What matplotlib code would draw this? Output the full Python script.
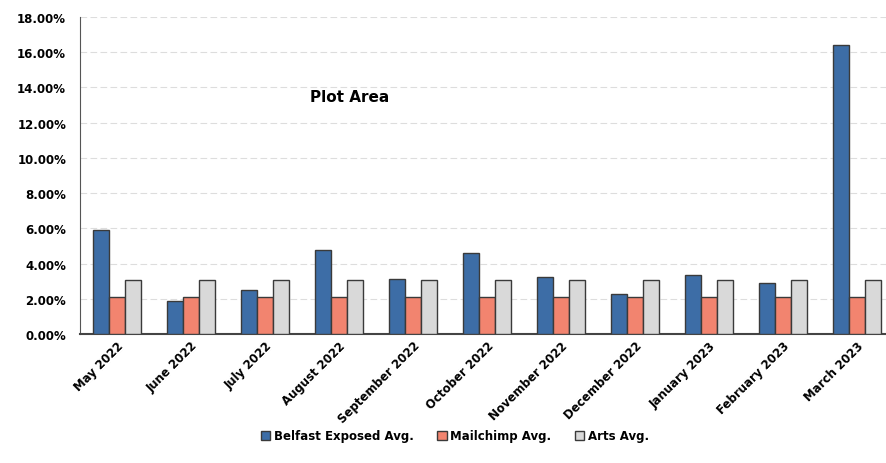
import matplotlib
matplotlib.use("Agg")
import matplotlib.pyplot as plt
import numpy as np
from matplotlib.ticker import FuncFormatter, MultipleLocator

categories = ["May 2022", "June 2022", "July 2022", "August 2022", "September 2022",
              "October 2022", "November 2022", "December 2022", "January 2023",
              "February 2023", "March 2023"]
belfast = [5.9, 1.9, 2.5, 4.75, 3.15, 4.6, 3.25, 2.25, 3.35, 2.9, 16.4]
mailchimp = [2.1, 2.1, 2.1, 2.1, 2.1, 2.1, 2.1, 2.1, 2.1, 2.1, 2.1]
arts = [3.05, 3.05, 3.05, 3.05, 3.05, 3.05, 3.05, 3.05, 3.05, 3.05, 3.05]
series_names = ["Belfast Exposed Avg.", "Mailchimp Avg.", "Arts Avg."]

colors = ["#3D6DA6", "#F2846F", "#D9D9D9"]

fig = plt.figure(figsize=(8.86, 4.64), dpi=100)
ax = fig.add_axes([80/886, 1-335/464, 814/886, (335-18)/464])

x = np.arange(len(categories))
w = 0.215
for i, (vals, c, name) in enumerate(zip([belfast, mailchimp, arts], colors, series_names)):
    ax.bar(x + (i-1)*w, vals, width=w, color=c, edgecolor="#3a3a3a", linewidth=1.0,
           label=name, zorder=3)

ax.set_xlim(-0.5, len(categories)-0.5)
ax.set_ylim(0, 18)
ax.yaxis.set_major_locator(MultipleLocator(2))
ax.yaxis.set_major_formatter(FuncFormatter(lambda v, p: f"{v:.2f}%"))
ax.grid(axis="y", color="#dddddd", linewidth=0.8, linestyle=(0, (6, 3)), zorder=0)
for s in ["top", "right"]:
    ax.spines[s].set_visible(False)
ax.spines["left"].set_color("#555555")
ax.spines["bottom"].set_color("#444444")
ax.spines["bottom"].set_linewidth(1.5)
ax.tick_params(axis="both", length=0)
ax.tick_params(axis="y", pad=10)
ax.set_xticks(x)
ax.set_xticklabels(categories, rotation=45, ha="right", rotation_mode="anchor",
                   fontsize=8.5, fontweight="bold")
for lab in ax.get_yticklabels():
    lab.set_fontsize(8.5)
    lab.set_fontweight("bold")

ax.text(3.15, 13.5, "Plot Area", fontsize=11, fontweight="bold", ha="center", va="center")

fig.legend(loc="center", bbox_to_anchor=(455/886, 1-437/464), ncol=3, frameon=False,
           fontsize=8.5, handlelength=0.8, handleheight=0.8, columnspacing=2.0,
           handletextpad=0.3, prop={"weight": "bold", "size": 8.5})

fig.savefig("out.png", dpi=100)
